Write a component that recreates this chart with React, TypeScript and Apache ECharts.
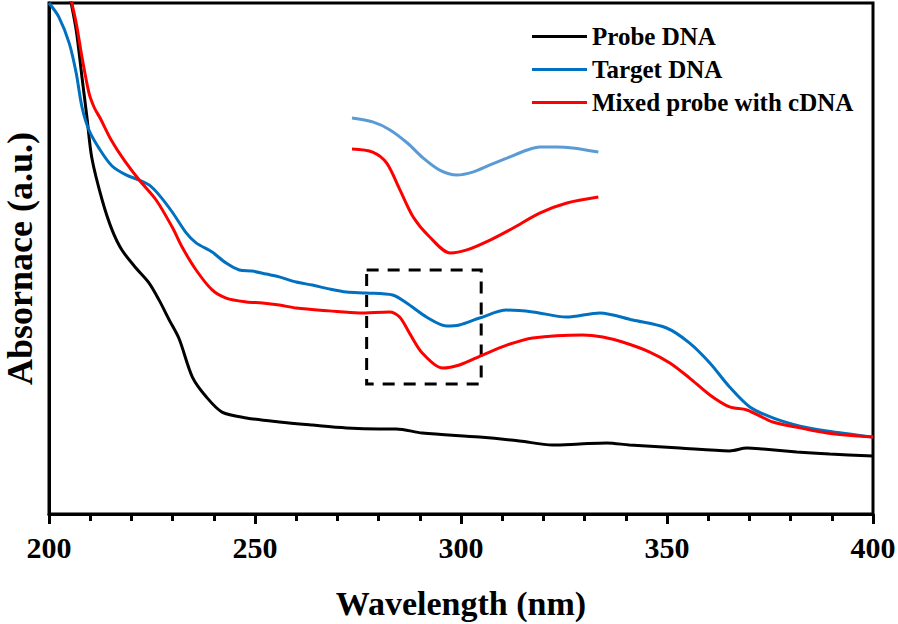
import React, { useEffect, useRef } from "react";
import * as echarts from "echarts";

// Wavelength (nm) / absorbance (a.u.) pairs
const probeWl = [205, 206.6, 208.0, 209.2, 210.4, 212.9, 215.3, 217.7, 221.1, 224.3, 226.7, 229.2, 231.6, 234.8, 238.2, 242.0, 247.9, 255.9, 263.9, 272.2, 280.2, 284.3, 290.6, 304.5, 314.2, 322.2, 328.8, 335.4, 340.9, 353.1, 365.2, 369.4, 373.3, 381.5, 389.5, 400];
const probeAbs = [2.03, 1.894, 1.71, 1.554, 1.393, 1.229, 1.112, 1.033, 0.963, 0.904, 0.838, 0.759, 0.685, 0.536, 0.458, 0.399, 0.376, 0.36, 0.348, 0.337, 0.333, 0.333, 0.317, 0.301, 0.286, 0.27, 0.274, 0.278, 0.27, 0.258, 0.247, 0.258, 0.254, 0.243, 0.235, 0.227];

const targetWl = [200, 202.4, 204.9, 206.6, 208.0, 209.7, 212.2, 215.3, 218.7, 221.9, 224.3, 226.7, 229.9, 233.3, 235.7, 239.6, 243.0, 246.2, 249.3, 252.7, 255.9, 260.0, 263.9, 268.0, 272.2, 277.0, 283.4, 286.8, 291.6, 296.5, 299.6, 304.5, 311.1, 317.4, 325.6, 333.7, 341.7, 349.9, 355.5, 360.4, 365.2, 370.1, 375.7, 382.3, 388.8, 400];
const targetAbs = [2.0, 1.945, 1.843, 1.726, 1.593, 1.503, 1.43, 1.362, 1.327, 1.307, 1.288, 1.249, 1.182, 1.1, 1.061, 1.025, 0.982, 0.955, 0.951, 0.939, 0.928, 0.908, 0.896, 0.881, 0.869, 0.865, 0.857, 0.826, 0.771, 0.736, 0.74, 0.767, 0.798, 0.791, 0.771, 0.787, 0.759, 0.728, 0.669, 0.591, 0.497, 0.419, 0.376, 0.344, 0.325, 0.301];

const mixedWl = [204.8, 206.6, 208.0, 209.7, 211.0, 212.4, 215.1, 218.2, 221.9, 226.0, 229.9, 232.3, 235.7, 239.6, 243.0, 247.9, 251.8, 255.9, 260.0, 268.0, 275.3, 282.6, 285.1, 287.5, 290.6, 295.5, 299.6, 305.2, 311.1, 317.4, 329.5, 334.4, 339.2, 345.8, 350.7, 355.5, 360.4, 365.2, 369.4, 375.7, 382.3, 388.8, 400];
const mixedAbs = [2.05, 1.922, 1.789, 1.648, 1.59, 1.55, 1.464, 1.386, 1.307, 1.229, 1.123, 1.045, 0.955, 0.877, 0.845, 0.83, 0.826, 0.818, 0.806, 0.795, 0.787, 0.791, 0.771, 0.708, 0.63, 0.571, 0.583, 0.622, 0.661, 0.689, 0.701, 0.693, 0.673, 0.634, 0.591, 0.532, 0.466, 0.419, 0.407, 0.36, 0.337, 0.317, 0.301];

// Magnified inset (wavelength, relative absorbance)
const insetTargetWl = [275.0, 277.5, 279.6, 281.7, 283.6, 285.6, 287.7, 289.6, 291.7, 293.8, 296.2, 297.7, 299.8, 301.7, 304.8];
const insetTargetAbs = [0.894, 0.871, 0.824, 0.747, 0.659, 0.588, 0.559, 0.576, 0.618, 0.659, 0.706, 0.724, 0.724, 0.718, 0.694];
const insetMixedWl = [275.0, 277.5, 279.2, 280.8, 282.4, 284.4, 286.9, 288.9, 291.7, 294.5, 297.7, 301.0, 304.8];
const insetMixedAbs = [0.712, 0.694, 0.629, 0.471, 0.312, 0.194, 0.1, 0.118, 0.176, 0.247, 0.335, 0.394, 0.429];

// Zoom box region (wavelength range, absorbance range)
const boxWl = [277.1, 304.9];
const boxAbs = [0.509, 0.955];

const seriesNames = ["Probe DNA", "Target DNA", "Mixed probe with cDNA"];

const zip = (xs: number[], ys: number[]) => xs.map((x, i) => [x, ys[i]]);

export default function App() {
  const ref = useRef<HTMLDivElement>(null);
  useEffect(() => {
    if (!ref.current) return;
    const chart = echarts.init(ref.current, undefined, { renderer: "svg" });
    const font = "'Liberation Serif', 'Times New Roman', serif";
    const lineCommon = { type: "line", smooth: 0.3, showSymbol: false, clip: true };
    chart.setOption({
      animation: false,
      backgroundColor: "#fff",
      grid: [
        {
          left: 49, right: 25, top: 3, bottom: 110,
          show: true, borderColor: "#000", borderWidth: 3,
          containLabel: false, outerBoundsMode: "none",
        },
        { left: 352, width: 248, top: 100, height: 170, show: false, containLabel: false, outerBoundsMode: "none" },
      ],
      legend: {
        orient: "vertical",
        left: 527,
        top: 19,
        itemWidth: 55,
        itemHeight: 12,
        itemGap: 8,
        icon: "path://M0,5 L55,5 L55,8 L0,8 Z",
        data: seriesNames,
        textStyle: { fontFamily: font, fontWeight: "bold", fontSize: 25, lineHeight: 25, color: "#000" },
      },
      xAxis: [
        {
          type: "value",
          gridIndex: 0,
          position: "bottom",
          min: 200,
          max: 400,
          interval: 50,
          name: "Wavelength (nm)",
          nameLocation: "middle",
          nameGap: 72,
          nameTextStyle: { fontFamily: font, fontWeight: "bold", fontSize: 34, color: "#000" },
          axisLine: { show: true, onZero: false, lineStyle: { color: "#000", width: 3 } },
          axisTick: { show: true, inside: false, length: 10, lineStyle: { color: "#000", width: 3 } },
          axisLabel: {
            show: true,
            fontFamily: font,
            fontWeight: "bold",
            fontSize: 30,
            color: "#000",
            margin: 18,
          },
          splitLine: { show: false },
        },
        {
          type: "value",
          gridIndex: 0,
          position: "bottom",
          offset: 0,
          min: 200,
          max: 400,
          interval: 10,
          axisLine: { show: false, onZero: false },
          axisTick: { show: true, inside: false, length: 7, lineStyle: { color: "#000", width: 3 } },
          axisLabel: { show: false },
          splitLine: { show: false },
        },
        { type: "value", gridIndex: 1, min: 275, max: 305, show: false },
      ],
      yAxis: [
        {
          type: "value",
          gridIndex: 0,
          min: 0,
          max: 2,
          name: "Absornace (a.u.)",
          nameLocation: "middle",
          nameGap: 11,
          nameTextStyle: { fontFamily: font, fontWeight: "bold", fontSize: 36, color: "#000" },
          axisLine: { show: true, onZero: false, lineStyle: { color: "#000", width: 3 } },
          axisTick: { show: false },
          axisLabel: { show: false },
          splitLine: { show: false },
        },
        { type: "value", gridIndex: 1, min: 0, max: 1, show: false },
      ],
      series: [
        {
          ...lineCommon,
          name: seriesNames[0],
          data: zip(probeWl, probeAbs),
          color: "#000000",
          lineStyle: { width: 3, color: "#000000" },
        },
        {
          ...lineCommon,
          name: seriesNames[1],
          data: zip(targetWl, targetAbs),
          color: "#0070C0",
          lineStyle: { width: 3, color: "#0070C0" },
        },
        {
          ...lineCommon,
          name: seriesNames[2],
          data: zip(mixedWl, mixedAbs),
          color: "#FF0000",
          lineStyle: { width: 3, color: "#FF0000" },
          markArea: {
            silent: true,
            itemStyle: { color: "rgba(0,0,0,0)", borderColor: "#000", borderWidth: 3, borderType: [12, 9] },
            data: [[{ coord: [boxWl[0], boxAbs[1]] }, { coord: [boxWl[1], boxAbs[0]] }]],
          },
        },
        {
          ...lineCommon,
          name: "inset-target",
          xAxisIndex: 2,
          yAxisIndex: 1,
          data: zip(insetTargetWl, insetTargetAbs),
          lineStyle: { width: 3, color: "#5B9BD5" },
        },
        {
          ...lineCommon,
          name: "inset-mixed",
          xAxisIndex: 2,
          yAxisIndex: 1,
          data: zip(insetMixedWl, insetMixedAbs),
          lineStyle: { width: 3, color: "#FF0000" },
        },
      ],
    });
    return () => chart.dispose();
  }, []);
  return <div ref={ref} style={{ position: "fixed", left: 0, top: 0, width: 898, height: 624 }} />;
}
